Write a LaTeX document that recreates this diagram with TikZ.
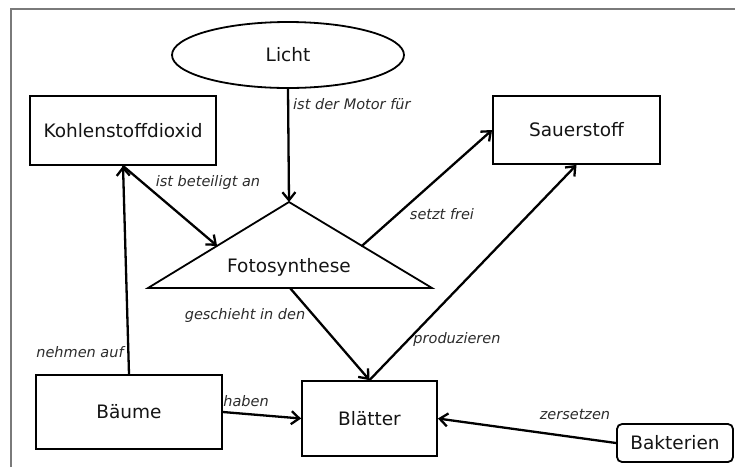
\documentclass[tikz,border=0pt]{standalone}
\usepackage{fontspec}
\setmainfont{DejaVu Sans}
\usetikzlibrary{arrows.meta,shapes.geometric,calc}
\definecolor{ink}{HTML}{141414}
\definecolor{labelink}{HTML}{2C2C2C}
\definecolor{framegray}{HTML}{7A7A7A}
\begin{document}
\begin{tikzpicture}[x=1pt,y=-1pt,
  concept/.style={draw=black,line width=1.8pt,rectangle,inner sep=0pt,
    font=\fontsize{18.5}{20}\selectfont,text=ink},
  link/.style={draw=black,line width=2.3pt,line cap=round,
    -{Straight Barb[length=8pt,width=13pt,line width=2.3pt]}},
  lbl/.style={font=\itshape\fontsize{14.5}{16}\selectfont,text=labelink,inner sep=0pt}]
\useasboundingbox (0,0) rectangle (735,467);

% page frame (top and left edges only)
\draw[framegray,line width=1.3pt] (11,467) -- (11,9) -- (735,9);

% concepts
\node[concept,ellipse,minimum width=232pt,minimum height=66pt] (licht) at (288,55) {Licht};
\node[concept,minimum width=186pt,minimum height=69pt] (kohlen) at (123,130.5) {Kohlenstoffdioxid};
\node[concept,minimum width=167pt,minimum height=68pt] (sauer) at (576.5,130) {Sauerstoff};
\node[concept,minimum width=186pt,minimum height=74pt] (baeume) at (129,412) {Bäume};
\node[concept,minimum width=135pt,minimum height=75pt] (blaetter) at (369.5,418.5) {Blätter};
\node[concept,rounded corners=5pt,minimum width=116pt,minimum height=38pt] (bakterien) at (675,443) {Bakterien};

% Fotosynthese triangle
\coordinate (fApex) at (289,202);
\coordinate (fLeft) at (148,288);
\coordinate (fRight) at (432,288);
\draw[line width=1.8pt,line join=miter] (fApex) -- (fLeft) -- (fRight) -- cycle;
\node[font=\fontsize{18.5}{20}\selectfont,text=ink] (foto) at (289,267) {Fotosynthese};
\coordinate (fLeftMid) at ($(fApex)!0.51!(fLeft)$);
\coordinate (fRightMid) at ($(fApex)!0.51!(fRight)$);
\coordinate (fBase) at (290,288);

% relations
\draw[link] (licht.south) -- (fApex);
\draw[link] (kohlen.south) -- (fLeftMid);
\draw[link] (fRightMid) -- (sauer.west);
\draw[link] (fBase) -- (blaetter.north);
\draw[link] (blaetter.north) -- (sauer.south);
\draw[link] (baeume.north) -- (kohlen.south);
\draw[link] (baeume.east) -- (blaetter.west);
\draw[link] (bakterien.west) -- (blaetter.east);

% relation labels
\node[lbl,anchor=west] (lMotor) at (293,104) {ist der Motor für};
\node[lbl] (lBeteiligt) at (208,182) {ist beteiligt an};
\node[lbl] (lFrei) at (442,214) {setzt frei};
\node[lbl] (lGeschieht) at (245,315) {geschieht in den};
\node[lbl] (lNehmen) at (80,352) {nehmen auf};
\node[lbl] (lHaben) at (246,401) {haben};
\node[lbl] (lProd) at (457,339) {produzieren};
\node[lbl] (lZers) at (575,414) {zersetzen};
\end{tikzpicture}
\end{document}
